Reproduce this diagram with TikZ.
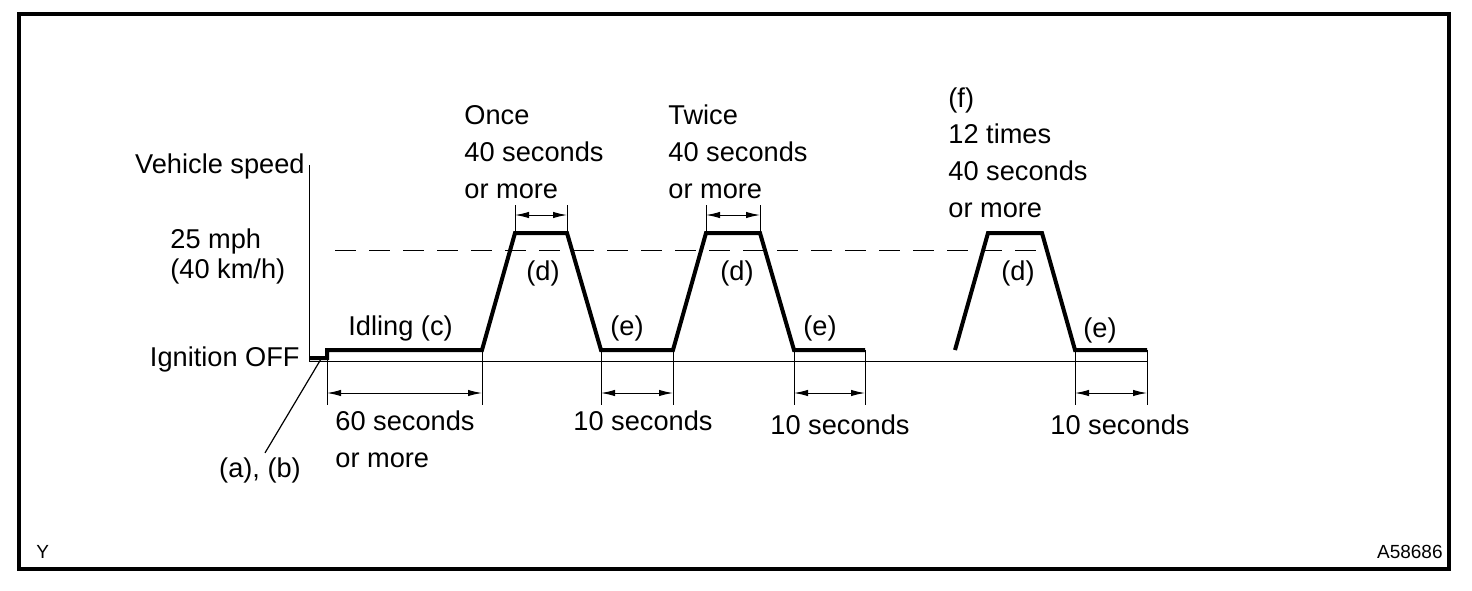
\documentclass[tikz,border=0pt]{standalone}
\usepackage{fontspec}
\setmainfont{Liberation Sans}
\usetikzlibrary{arrows.meta}

\begin{document}
\begin{tikzpicture}[x=0.5pt, y=-0.5pt,
    profile/.style={line width=2pt, line join=miter},
    thinline/.style={line width=0.5pt},
    dimline/.style={line width=0.5pt, {Latex[length=7pt,width=3.2pt]}-{Latex[length=7pt,width=3.2pt]}},
    lbl/.style={font=\fontsize{13.6}{18.3}\selectfont, inner sep=0pt, align=left},
    small/.style={font=\fontsize{9.5}{11}\selectfont, inner sep=0pt}]

    \useasboundingbox (0,0) rectangle (1472,590);

    % Frame
    \draw[line width=1.75pt] (19,14) rectangle (1449,569);

    % Axes
    \coordinate (origin) at (309,361);
    \coordinate (ytop) at (309,165);
    \coordinate (xend) at (1147,361);
    \draw[thinline] (ytop) -- (origin) -- (xend);

    % 25 mph level
    \coordinate (lvlA) at (335,250);
    \coordinate (lvlB) at (1045,250);
    \draw[thinline, dash pattern=on 10.5pt off 6.5pt] (lvlA) -- (lvlB);

    % Speed profile
    \coordinate (p0) at (309,358);
    \coordinate (p1) at (327,358);
    \coordinate (p2) at (327,350);
    \coordinate (p3) at (482,350);
    \coordinate (p4) at (515,233);
    \coordinate (p5) at (567,233);
    \coordinate (p6) at (601,350);
    \coordinate (p7) at (673,350);
    \coordinate (p8) at (706,233);
    \coordinate (p9) at (760,233);
    \coordinate (p10) at (794,350);
    \coordinate (p11) at (865,350);
    \draw[profile] (p0) -- (p1) -- (p2) -- (p3) -- (p4) -- (p5) -- (p6) -- (p7) -- (p8) -- (p9) -- (p10) -- (p11);

    \coordinate (q0) at (955,350);
    \coordinate (q1) at (988,233);
    \coordinate (q2) at (1042,233);
    \coordinate (q3) at (1075,350);
    \coordinate (q4) at (1147,350);
    \draw[profile] (q0) -- (q1) -- (q2) -- (q3) -- (q4);

    % Dimension levels
    \coordinate (dimlow) at (0,393);
    \coordinate (extlow) at (0,405);
    \coordinate (dimtop) at (0,215);
    \coordinate (exttop) at (0,205);

    % Lower dimensions
    \foreach \a/\b in {p2/p3, p6/p7, p10/p11, q3/q4} {
        \draw[thinline] (\a) -- (\a |- extlow);
        \draw[thinline] (\b) -- (\b |- extlow);
        \draw[dimline] (\a |- dimlow) -- (\b |- dimlow);
    }

    % Upper dimensions
    \foreach \a/\b in {p4/p5, p8/p9} {
        \draw[thinline] (\a) -- (\a |- exttop);
        \draw[thinline] (\b) -- (\b |- exttop);
        \draw[dimline] (\a |- dimtop) -- (\b |- dimtop);
    }

    % Axis labels (base = last line)
    \node[lbl, anchor=base east] (speed) at (305,173) {Vehicle speed};
    \node[lbl, anchor=base west] (mph) at (170,278) {25 mph\\[-3.4pt](40 km/h)};
    \node[lbl, anchor=base east] (ignoff) at (300,366) {Ignition OFF};

    % Leader for (a), (b)
    \node[lbl, anchor=base] (ab) at (260,477) {(a), (b)};
    \coordinate (leadtop) at (321,359);
    \draw[thinline] (ab.north) ++(5,-4) coordinate (leadbot);
    \draw[line width=0.6pt] (leadtop) -- (leadbot);

    % Phase labels
    \node[lbl, anchor=base west] (idling) at (348,335) {Idling (c)};
    \node[lbl, anchor=base west] (once) at (464,198) {Once\\40 seconds\\or more};
    \node[lbl, anchor=base west] (twice) at (668,198) {Twice\\40 seconds\\or more};
    \node[lbl, anchor=base west] (times) at (948,217) {(f)\\12 times\\40 seconds\\or more};

    \node[lbl] (d1) at (543,273) {(d)};
    \node[lbl] (d2) at (737,273) {(d)};
    \node[lbl] (d3) at (1018,273) {(d)};
    \node[lbl] (e1) at (627,328) {(e)};
    \node[lbl] (e2) at (820,328) {(e)};
    \node[lbl] (e3) at (1100,330) {(e)};

    % Duration labels
    \node[lbl, anchor=base west] (sixty) at (335,467) {60 seconds\\or more};
    \node[lbl, anchor=base] (ten1) at (643,430) {10 seconds};
    \node[lbl, anchor=base] (ten2) at (840,434) {10 seconds};
    \node[lbl, anchor=base] (ten3) at (1120,434) {10 seconds};

    % Corner marks
    \node[small, anchor=base west] (ymark) at (36,558) {Y};
    \node[small, anchor=base east] (code) at (1443,558) {A58686};

\end{tikzpicture}
\end{document}
